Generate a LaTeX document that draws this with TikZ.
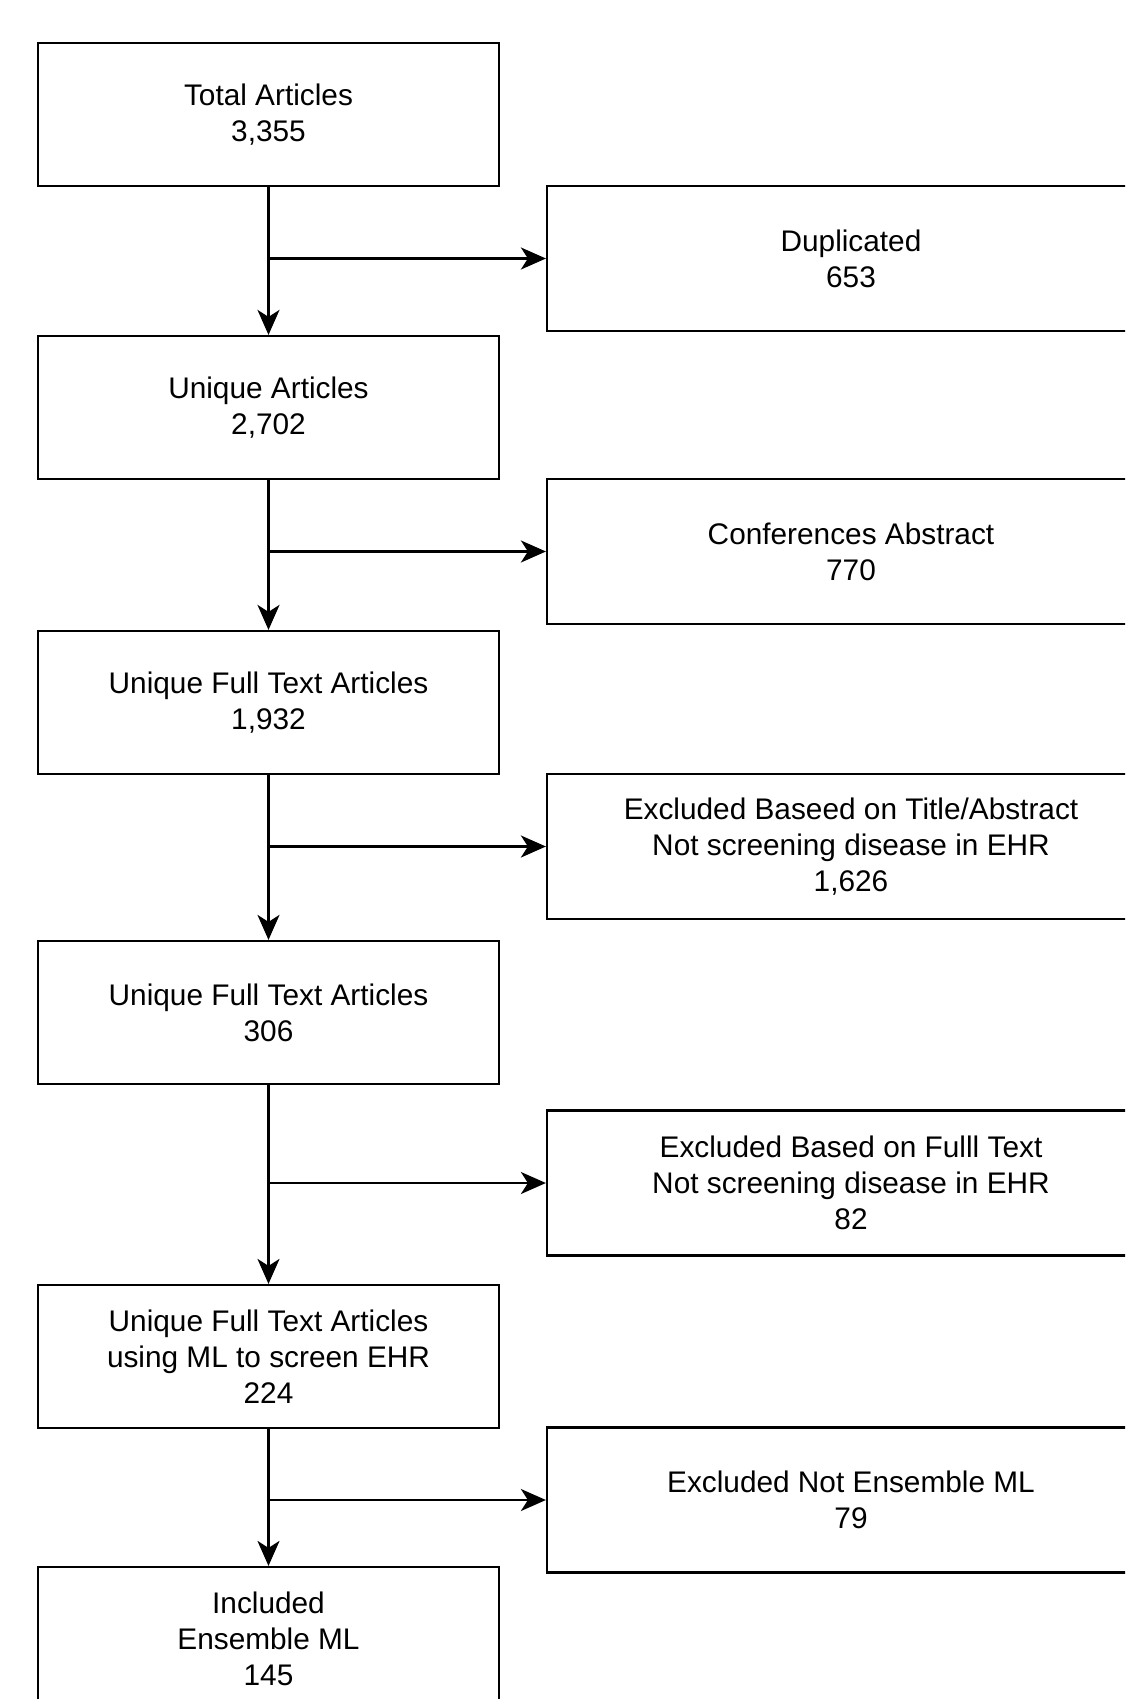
\documentclass[tikz,border=0pt]{standalone}
\usepackage{fontspec}
\setmainfont{Liberation Sans}
\usetikzlibrary{arrows.meta}
\begin{document}
\begin{tikzpicture}[x=1pt,y=-1pt,
  lbox/.style={draw=black,line width=2.2pt,minimum width=461pt,minimum height=143pt,align=center,inner sep=0pt,font=\fontsize{29.8}{36}\selectfont},
  rbox/.style={draw=black,line width=2.2pt,minimum width=608pt,minimum height=145pt,align=center,inner sep=0pt,font=\fontsize{29.8}{36}\selectfont},
  arr/.style={line width=2.2pt,-{Stealth[length=25pt,width=22pt,inset=7pt]}}]
\useasboundingbox (0,0) rectangle (1125,1699);
\clip (0,0) rectangle (1125,1699);
\fill[white] (0,0) rectangle (1125,1699);
\node[lbox] (b1) at (268.5,114.5) {Total Articles\\3,355};
\node[rbox] (r1) at (851,258.5) {Duplicated\\653};
\node[lbox] (b2) at (268.5,407.5) {Unique Articles\\2,702};
\node[rbox] (r2) at (851,551.5) {Conferences Abstract\\770};
\node[lbox] (b3) at (268.5,702.5) {Unique Full Text Articles\\1,932};
\node[rbox] (r3) at (851,846.5) {Excluded Baseed on Title/Abstract\\Not screening disease in EHR\\1,626};
\node[lbox] (b4) at (268.5,1012.5) {Unique Full Text Articles\\306};
\node[rbox] (r4) at (851,1183) {Excluded Based on Fulll Text\\Not screening disease in EHR\\82};
\node[lbox] (b5) at (268.5,1356.5) {Unique Full Text Articles\\using ML to screen EHR\\224};
\node[rbox] (r5) at (851,1500) {Excluded Not Ensemble ML\\79};
\node[lbox] (b6) at (268.5,1638.5) {Included\\Ensemble ML\\145};
\draw[arr] (b1) -- (b2);
\draw[arr] (b2) -- (b3);
\draw[arr] (b3) -- (b4);
\draw[arr] (b4) -- (b5);
\draw[arr] (b5) -- (b6);
\draw[arr] (b1.south |- r1.west) -- (r1.west);
\draw[arr] (b2.south |- r2.west) -- (r2.west);
\draw[arr] (b3.south |- r3.west) -- (r3.west);
\draw[arr] (b4.south |- r4.west) -- (r4.west);
\draw[arr] (b5.south |- r5.west) -- (r5.west);
\end{tikzpicture}
\end{document}
